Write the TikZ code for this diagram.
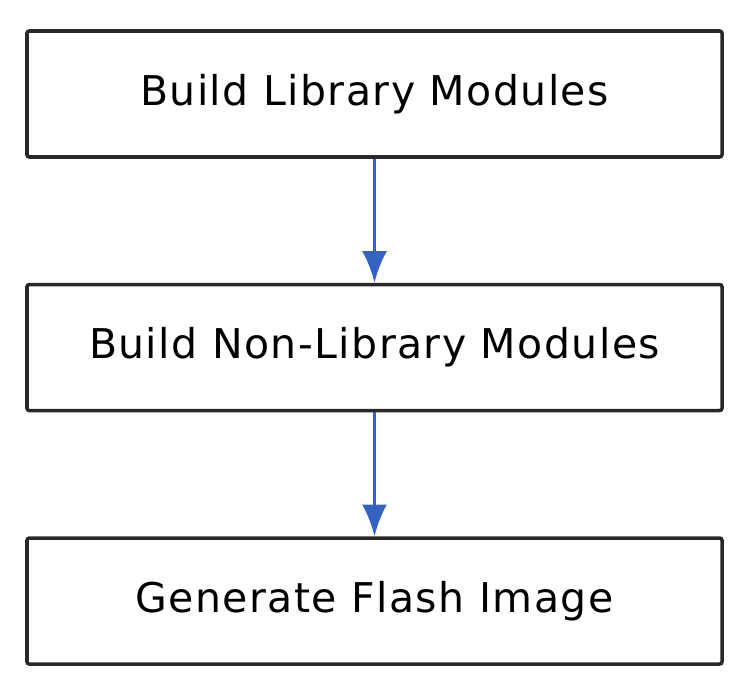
\documentclass[tikz,border=0pt]{standalone}
\usepackage{fontspec}
\setmainfont{DejaVu Sans}[LetterSpace=3.5]
\usetikzlibrary{positioning, arrows.meta}
\definecolor{flowblue}{RGB}{52,98,192}
\definecolor{boxline}{RGB}{40,40,40}

\begin{document}
\begin{tikzpicture}[
    stepbox/.style={draw=boxline, line width=3pt, rounded corners=2pt, minimum width=20.85cm, minimum height=3.78cm, inner sep=0pt, font=\fontsize{35}{42}\selectfont},
    flow/.style={flowblue, line width=2.8pt, -{Latex[length=0.95cm, width=0.75cm]}}
]
    \useasboundingbox (0,0) rectangle (22.26,-20.55);

    \node [stepbox] (lib) at (11.235,-2.82) {Build Library Modules};
    \node [stepbox, below=3.72cm of lib] (nonlib) {Build Non-Library Modules};
    \node [stepbox, below=3.72cm of nonlib] (flash) {Generate Flash Image};

    % frecce tra i passi
    \draw [flow] (lib) -- (nonlib);
    \draw [flow] (nonlib) -- (flash);
\end{tikzpicture}
\end{document}
